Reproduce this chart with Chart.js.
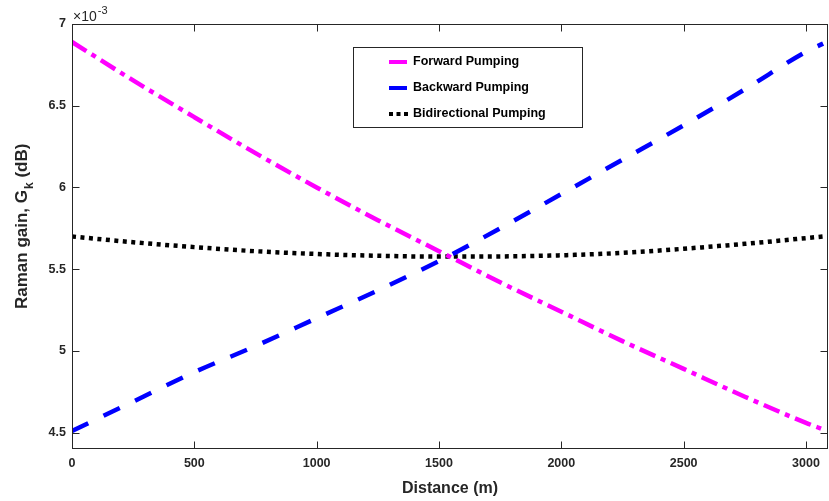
<!DOCTYPE html>
<html>
<head>
<meta charset="utf-8">
<script src="https://cdn.jsdelivr.net/npm/chart.js@4/dist/chart.umd.min.js"></script>
<style>
  html, body { margin: 0; padding: 0; background: #fff; }
  canvas { display: block; }
</style>
</head>
<body>
<canvas id="grafico" width="829" height="501"></canvas>
<script>
// distance along the fibre (m)
const distance = [0, 250, 500, 750, 1000, 1250, 1500, 1750, 2000, 2250, 2500, 2750, 3000, 3070];
// Raman gain values, in units of 1e-3 dB
const forwardGain = [6.89, 6.655, 6.43, 6.21, 6.00, 5.80, 5.61, 5.42, 5.24, 5.06, 4.89, 4.72, 4.56, 4.52];
const backwardGain = [4.51, 4.69, 4.87, 5.03, 5.20, 5.37, 5.55, 5.75, 5.96, 6.17, 6.38, 6.60, 6.83, 6.88];
const bidirectionalGain = [5.70, 5.665, 5.635, 5.61, 5.593, 5.582, 5.577, 5.578, 5.585, 5.60, 5.625, 5.655, 5.69, 5.70];

const xTicks = [0, 500, 1000, 1500, 2000, 2500, 3000];
const yTicks = [4.5, 5, 5.5, 6, 6.5, 7];
const seriesNames = ["Forward Pumping", "Backward Pumping", "Bidirectional Pumping"];

const FONT = "'Liberation Sans', Arial, Helvetica, sans-serif";
const INK = "#262626";

function pontos(ys) {
  return distance.map((d, i) => ({ x: d, y: ys[i] }));
}

// frame, inward ticks, exponent label, y title and legend box (MATLAB look)
const moldura = {
  id: "moldura",
  afterDraw(chart) {
    const ctx = chart.ctx;
    const a = chart.chartArea;
    const sx = chart.scales.x, sy = chart.scales.y;
    const L = Math.round(a.left) + 0.5, R = Math.round(a.right) - 0.5;
    const T = Math.round(a.top) + 0.5, B = Math.round(a.bottom) - 0.5;
    ctx.save();
    ctx.strokeStyle = INK;
    ctx.lineWidth = 1;
    ctx.strokeRect(L, T, R - L, B - T);
    ctx.beginPath();
    xTicks.forEach(v => {
      const px = Math.round(sx.getPixelForValue(v)) + 0.5;
      ctx.moveTo(px, B); ctx.lineTo(px, B - 7);
      ctx.moveTo(px, T); ctx.lineTo(px, T + 7);
    });
    yTicks.forEach(v => {
      const py = Math.round(sy.getPixelForValue(v)) + 0.5;
      ctx.moveTo(L, py); ctx.lineTo(L + 7, py);
      ctx.moveTo(R, py); ctx.lineTo(R - 7, py);
    });
    ctx.stroke();

    // x10^-3
    ctx.fillStyle = INK;
    ctx.textBaseline = "alphabetic";
    ctx.textAlign = "left";
    ctx.font = "14px " + FONT;
    ctx.fillText("\u00d710", 73, 21);
    const w = ctx.measureText("\u00d710").width;
    ctx.font = "11px " + FONT;
    ctx.fillText("-3", 73 + w + 1, 14);

    // y title with subscript
    ctx.translate(27, 309);
    ctx.rotate(-Math.PI / 2);
    const p1 = "Raman gain, G", p3 = " (dB)";
    ctx.font = "bold 17px " + FONT;
    const w1 = ctx.measureText(p1).width;
    ctx.font = "bold 12px " + FONT;
    const w2 = ctx.measureText("k").width;
    ctx.font = "bold 17px " + FONT;
    ctx.fillText(p1, 0, 0);
    ctx.font = "bold 12px " + FONT;
    ctx.fillText("k", w1 + 1, 6);
    ctx.font = "bold 17px " + FONT;
    ctx.fillText(p3, w1 + w2 + 1, 0);
    ctx.restore();

    // legend box
    ctx.save();
    ctx.fillStyle = "#fff";
    ctx.fillRect(353.5, 47.5, 229, 80);
    ctx.strokeStyle = INK;
    ctx.lineWidth = 1;
    ctx.strokeRect(353.5, 47.5, 229, 80);
    const linhas = [62, 88, 114];
    chart.data.datasets.forEach((ds, i) => {
      const y = linhas[i];
      ctx.beginPath();
      ctx.strokeStyle = ds.borderColor;
      ctx.lineWidth = 4;
      if (i === 2) {
        ctx.setLineDash([4, 3.5]);
        ctx.moveTo(389, y); ctx.lineTo(409, y);
      } else {
        ctx.setLineDash([]);
        ctx.moveTo(389, y); ctx.lineTo(407, y);
      }
      ctx.stroke();
      ctx.setLineDash([]);
      ctx.fillStyle = "#000";
      ctx.font = "bold 12.5px " + FONT;
      ctx.textBaseline = "middle";
      ctx.textAlign = "left";
      ctx.fillText(ds.label, 413, y);
    });
    ctx.restore();
  }
};

new Chart(document.getElementById("grafico"), {
  type: "line",
  data: {
    datasets: [
      { label: seriesNames[0], data: pontos(forwardGain), borderColor: "#ff00ff", borderWidth: 4.5,
        borderDash: [17, 6, 5, 6], pointRadius: 0, cubicInterpolationMode: "monotone" },
      { label: seriesNames[1], data: pontos(backwardGain), borderColor: "#0000ff", borderWidth: 4.5,
        borderDash: [18, 17], pointRadius: 0, cubicInterpolationMode: "monotone" },
      { label: seriesNames[2], data: pontos(bidirectionalGain), borderColor: "#000000", borderWidth: 4.5,
        borderDash: [4, 4.5], pointRadius: 0, cubicInterpolationMode: "monotone" }
    ]
  },
  options: {
    responsive: false,
    animation: false,
    layout: { padding: { top: 24, right: 1, left: 0, bottom: 0 } },
    plugins: { legend: { display: false }, tooltip: { enabled: false } },
    scales: {
      x: {
        type: "linear", min: 0, max: 3090,
        afterBuildTicks: s => { s.ticks = xTicks.map(v => ({ value: v })); },
        afterFit: s => { s.height = 52; },
        grid: { display: false, drawTicks: false },
        border: { display: false },
        ticks: { color: INK, padding: 7, maxRotation: 0, callback: v => String(v),
                 font: { family: FONT, size: 12.5, weight: "bold" } },
        title: { display: true, text: "Distance (m)", color: INK, padding: { top: 0, bottom: 3 },
                 font: { family: FONT, size: 16, weight: "bold" } }
      },
      y: {
        type: "linear", min: 4.4, max: 7,
        afterBuildTicks: s => { s.ticks = yTicks.map(v => ({ value: v })); },
        afterFit: s => { s.width = 72; },
        grid: { display: false, drawTicks: false },
        border: { display: false },
        ticks: { color: INK, padding: 6, callback: v => String(v),
                 font: { family: FONT, size: 12.5, weight: "bold" } }
      }
    }
  },
  plugins: [moldura]
});
</script>
</body>
</html>
